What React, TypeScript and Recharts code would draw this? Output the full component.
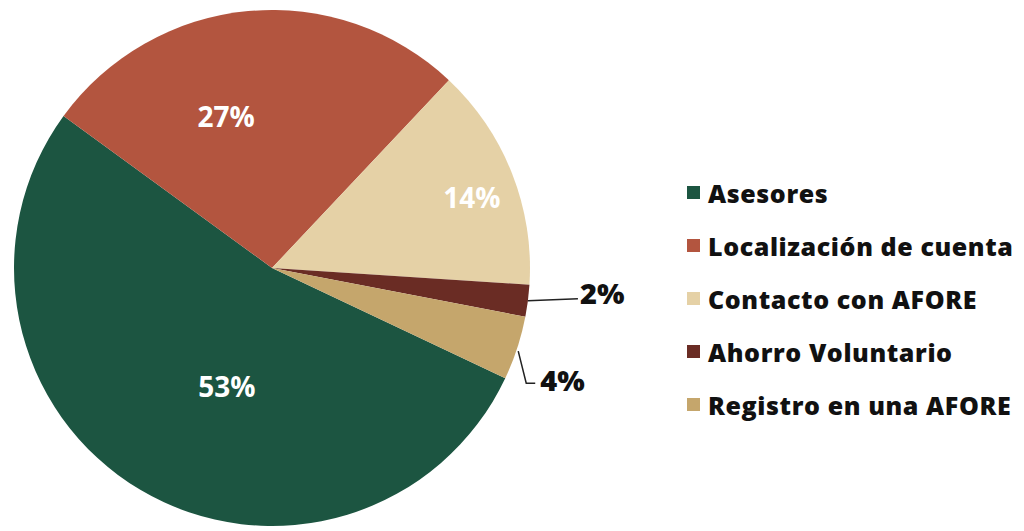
import React from "react";
import { PieChart, Pie, Cell, Legend } from "recharts";

const categories = [
  "Asesores",
  "Localización de cuenta",
  "Contacto con AFORE",
  "Ahorro Voluntario",
  "Registro en una AFORE",
];
const shares = [53, 27, 14, 2, 4];

const COLORS = ["#1c5541", "#b3553f", "#e5d1a6", "#6a2c24", "#c5a66c"];

const data = categories.map((name, i) => ({ name, value: shares[i] }));

// where each inside label sits (angle in degrees, distance from center)
const INSIDE_LABELS: Record<number, { angle: number; r: number }> = {
  0: { angle: -111, r: 126 },
  1: { angle: 106.8, r: 159 },
  2: { angle: 19.5, r: 212 },
};

const RADIAN = Math.PI / 180;

function renderLabel(props: any) {
  const { cx, cy, midAngle, outerRadius, index, value } = props;
  const text = `${value}%`;
  const inside = INSIDE_LABELS[index];
  if (inside) {
    const x = cx + inside.r * Math.cos(inside.angle * RADIAN);
    const y = cy - inside.r * Math.sin(inside.angle * RADIAN);
    return (
      <text
        key={`l-${index}`}
        x={x}
        y={y}
        fill="#ffffff"
        textAnchor="middle"
        dominantBaseline="central"
        fontFamily="'Open Sans', sans-serif"
        fontWeight={700}
        fontSize={28}
      >
        {text}
      </text>
    );
  }
  // small slices: leader line out to the right
  const sx = cx + outerRadius * Math.cos(midAngle * RADIAN);
  const sy = cy - outerRadius * Math.sin(midAngle * RADIAN);
  let points: string;
  let tx: number;
  let ty: number;
  if (index === 3) {
    points = `${sx},${sy} ${sx + 50},${sy - 2}`;
    tx = sx + 52;
    ty = sy - 8;
  } else {
    points = `${sx + 1},${sy + 3} ${sx + 9},${sy + 35} ${sx + 18},${sy + 35}`;
    tx = sx + 23;
    ty = sy + 31;
  }
  return (
    <g key={`l-${index}`}>
      <polyline points={points} fill="none" stroke="#222" strokeWidth={1.5} />
      <text
        x={tx}
        y={ty}
        fill="#111"
        textAnchor="start"
        dominantBaseline="central"
        fontFamily="'Open Sans', sans-serif"
        fontWeight={800}
        fontSize={29}
      >
        {text}
      </text>
    </g>
  );
}

function LegendContent(props: any) {
  const payload = [...(props.payload || [])].sort(
    (a: any, b: any) => categories.indexOf(a.value) - categories.indexOf(b.value)
  );
  return (
    <div>
      {payload.map((entry: any, i: number) => (
        <div
          key={`leg-${i}`}
          style={{
            display: "flex",
            alignItems: "center",
            height: 53,
            fontFamily: "'Open Sans', sans-serif",
            fontWeight: 800,
            fontSize: 25,
            letterSpacing: 0.6,
            color: "#111",
            whiteSpace: "nowrap",
          }}
        >
          <span
            style={{
              display: "inline-block",
              width: 13,
              height: 13,
              background: entry.color,
              marginRight: 8,
            }}
          />
          {entry.value}
        </div>
      ))}
    </div>
  );
}

export default function App() {
  return (
    <div style={{ position: "absolute", left: 0, top: 0, width: 1024, height: 531, background: "#fff" }}>
      <PieChart width={1024} height={531} margin={{ top: 0, right: 0, bottom: 0, left: 0 }}>
        <Pie
          data={data}
          dataKey="value"
          nameKey="name"
          cx={272}
          cy={268}
          outerRadius={258}
          startAngle={-25.3}
          endAngle={-385.3}
          stroke="none"
          label={renderLabel}
          labelLine={false}
          isAnimationActive={false}
        >
          {data.map((entry, index) => (
            <Cell key={`cell-${index}`} fill={COLORS[index]} />
          ))}
        </Pie>
        <Legend
          layout="vertical"
          align="right"
          verticalAlign="middle"
          content={<LegendContent />}
          wrapperStyle={{ left: 687, top: 166, width: 337 }}
        />
      </PieChart>
    </div>
  );
}
